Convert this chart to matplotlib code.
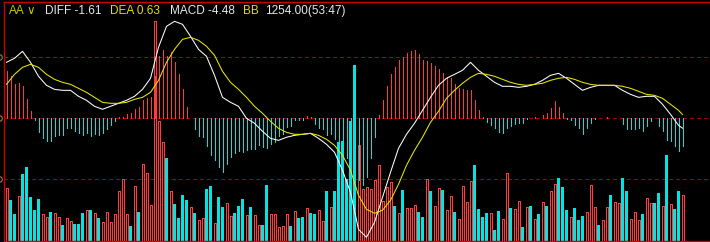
import numpy as np
import matplotlib.pyplot as plt

# ----------------------------------------------------------------------
# Data (170 bars)
# ----------------------------------------------------------------------
vol = [53, 41, 27, 45, 67, 74, 44, 31, 42, 27,
       24, 29, 28, 24, 16, 23, 20, 17, 17, 28,
       31, 31, 28, 23, 19, 29, 19, 27, 50, 62,
       27, 15, 55, 29, 77, 68, 36, 220, 120, 99,
       83, 50, 37, 23, 46, 41, 34, 28, 21, 23,
       52, 55, 18, 44, 34, 38, 25, 28, 35, 42,
       26, 34, 26, 16, 16, 56, 27, 27, 14, 15,
       27, 15, 30, 23, 24, 33, 28, 27, 31, 20,
       50, 34, 50, 99, 100, 62, 120, 176, 96, 52,
       54, 52, 61, 76, 40, 54, 59, 35, 28, 51,
       33, 33, 36, 29, 24, 62, 50, 35, 53, 51,
       31, 45, 29, 22, 55, 39, 60, 76, 32, 24,
       28, 28, 11, 30, 22, 68, 33, 32, 40, 14,
       34, 35, 22, 27, 39, 35, 50, 57, 63, 54,
       31, 24, 33, 21, 25, 29, 56, 34, 16, 21,
       34, 46, 39, 38, 63, 50, 22, 29, 21, 27,
       43, 38, 38, 48, 35, 86, 37, 32, 50, 46]

# r = up day (hollow red), c = down day (filled cyan)
vol_dir = ("rccrcccccr" "rcrrcrrccc" "rcrcrrrrrr" "rcrcrrrrrr"
           "crccccrcrr" "ccrccrrccc" "rcrrccrrrr" "rcrccrccrr"
           "crccccccrr" "rrrrrrrcrc" "rrrccrcrrc" "rrcrrrrccc"
           "crccrrcrrc" "rcrcrcrrcc" "crcccrrrcr" "rcrrccrrrc"
           "rrccrcrccr")

macd = [7.70, 6.89, 5.57, 5.74, 5.25, 3.11, 1.15, -0.25, -2.30, -3.28,
        -3.77, -3.77, -2.95, -2.79, -2.79, -1.56, -1.56, -2.08, -2.46, -2.79,
        -2.38, -2.87, -2.54, -2.79, -2.46, -1.72, -1.07, -0.41, 0.16, 0.21,
        0.70, 0.87, 1.48, 1.85, 2.95, 3.28, 3.44, 6.89, 10.16, 11.15,
        10.16, 10.82, 9.18, 7.21, 4.75, 1.80, 0.05, -1.80, -2.87, -3.11,
        -4.59, -6.07, -6.80, -7.98, -8.85, -7.46, -6.39, -5.74, -5.41, -5.57,
        -5.25, -5.08, -5.08, -4.43, -4.75, -4.92, -4.26, -3.93, -2.95, -2.62,
        -1.48, -1.23, -0.33, -0.33, -0.25, 0.33, 0.16, -0.90, -1.64, -1.72,
        -2.79, -2.54, -3.36, -4.26, -3.93, -6.56, -7.38, -8.85, -10.16, -10.98,
        -9.67, -6.56, -3.11, 0.49, 2.95, 5.25, 7.30, 8.36, 9.51, 10.00,
        10.74, 10.98, 11.15, 10.49, 9.59, 9.34, 9.02, 8.52, 8.03, 7.38,
        6.72, 6.56, 5.57, 4.92, 4.75, 4.59, 4.59, 2.95, 1.31, 0.16,
        -0.66, -1.15, -1.64, -2.30, -2.46, -1.64, -1.31, -0.98, -0.82, -0.82,
        -0.05, 0.08, 0.16, 0.08, 0.57, 0.82, 1.64, 2.79, 1.80, 0.82,
        -0.16, -0.33, -1.15, -1.64, -2.62, -1.56, -0.82, -0.16, 0.0, 0.08,
        0.16, 0.08, 0.0, 0.0, -0.98, -1.72, -1.80, -1.80, -1.64, -2.13,
        -1.31, -0.49, 0.0, -1.31, -2.13, -3.61, -3.77, -4.59, -5.41, -4.48]

# DIFF / DEA sampled every second bar (plus the last bar)
line_idx = list(range(0, 170, 2)) + [169]
diff = [9.18, 9.84, 10.98, 9.18, 6.89, 5.41, 4.75, 4.59, 4.59, 3.61,
        2.95, 1.97, 1.48, 1.97, 2.46, 2.95, 3.61, 4.75, 6.56, 11.64,
        15.08, 15.90, 15.41, 13.44, 11.31, 10.16, 7.05, 3.44, 2.62, 1.97,
        0.0, -0.82, -2.13, -3.28, -3.61, -3.11, -2.79, -2.62, -2.46, -3.28,
        -4.26, -5.57, -8.52, -12.13, -18.20, -19.51, -17.05, -12.95, -8.85, -4.92,
        -2.62, -0.82, 1.31, 3.44, 5.41, 6.56, 7.21, 7.87, 9.18, 7.87,
        6.89, 5.90, 5.25, 5.25, 5.08, 5.25, 5.57, 6.23, 7.05, 7.38,
        6.56, 5.57, 4.59, 5.08, 5.41, 5.41, 5.41, 4.59, 3.93, 3.44,
        3.61, 3.61, 2.30, 0.66, -1.15, -1.61]
dea = [5.57, 7.21, 8.36, 8.85, 8.36, 7.21, 6.39, 5.90, 5.57, 4.92,
       4.26, 3.44, 2.62, 2.46, 2.46, 2.62, 3.11, 3.44, 4.26, 6.23,
       9.18, 11.31, 12.95, 13.28, 12.79, 11.80, 10.33, 7.70, 5.90, 4.75,
       3.44, 1.97, 0.82, -0.49, -1.64, -2.30, -2.62, -2.62, -2.46, -2.79,
       -3.44, -4.43, -6.07, -8.52, -12.62, -14.92, -15.57, -15.08, -13.44, -10.82,
       -7.70, -5.25, -3.11, -0.66, 1.15, 3.28, 4.59, 5.74, 6.72, 7.38,
       7.21, 6.89, 6.39, 5.90, 5.57, 5.41, 5.57, 5.74, 6.23, 6.56,
       6.72, 6.39, 5.90, 5.57, 5.41, 5.41, 5.41, 5.25, 4.92, 4.43,
       3.93, 3.77, 3.28, 2.30, 1.31, 0.63]

grid_levels = [10, 0, -10]

header = [("AA", "#c8c800"), ("\u2228", "#c8c800"),
          ("DIFF -1.61", "#e8e8e8"), ("DEA 0.63", "#e0e000"),
          ("MACD -4.48", "#e8e8e8"), ("BB", "#e0e000"),
          ("1254.00(53:47)", "#e8e8e8")]
header_x = [9, 26, 45, 110, 170, 243, 265]

# ----------------------------------------------------------------------
# Styling
# ----------------------------------------------------------------------
RED = "#ff3c3c"
CYAN = "#00e4e4"
YELLOW = "#e8e800"
GRID = "#a80000"
FRAME = "#cc0000"
W, H = 710, 242
PX = 72 / 100   # one pixel in points

fig = plt.figure(figsize=(W / 100, H / 100), dpi=100, facecolor="black")
rect = [4 / W, 1 / H, (W - 4) / W, 239 / H]
ax_grid = fig.add_axes(rect)                                  # dashed levels
ax_vol = fig.add_axes(rect, sharex=ax_grid)                   # volume
ax = fig.add_axes(rect, sharex=ax_grid, sharey=ax_grid)       # MACD

ax_grid.set_facecolor("black")
for a in (ax_vol, ax):
    a.set_facecolor("none")
for a in (ax_grid, ax_vol, ax):
    a.set_xticks([]); a.set_yticks([])
    for s in a.spines.values():
        s.set_visible(False)

n = len(vol)
idx = np.arange(n)
ax_grid.set_xlim(-0.625, -0.625 + (W - 4) / 4)
ax_grid.set_ylim(-20.11, 19.07)
ax_vol.set_ylim(0, 239)

# dashed reference levels
for lv in grid_levels:
    ax_grid.axhline(lv, color=GRID, lw=PX, ls=(0, (4, 3)), antialiased=False)

# volume bars
up = np.array([c == "r" for c in vol_dir])
v = np.array(vol)
ax_vol.bar(idx[up], v[up], width=0.5, facecolor="black", edgecolor=RED,
           linewidth=PX, antialiased=False)
ax_vol.bar(idx[~up], v[~up], width=0.75, color=CYAN, linewidth=0,
           antialiased=False)

# MACD histogram
m = np.array(macd)
ax.vlines(idx, 0, m, colors=[RED if x > 0 else CYAN for x in m], lw=PX,
          antialiased=False)

# DIFF / DEA
ax.plot(line_idx, diff, color="white", lw=0.75)
ax.plot(line_idx, dea, color=YELLOW, lw=0.75)

# frame
for side in ("left", "top", "bottom"):
    ax.spines[side].set_visible(True)
    ax.spines[side].set_color(FRAME)
    ax.spines[side].set_linewidth(1.0)

# left tick markers
ax.plot([-1.9] * len(grid_levels), grid_levels, "o", ms=4, mfc="none",
        mec="#9a7a55", mew=0.8, clip_on=False)

# header text
for (s, c), x in zip(header, header_x):
    fig.text(x / W, 1 - 11 / H, s, color=c, fontsize=8.5, va="center",
             ha="left", family=["Liberation Sans", "DejaVu Sans"])

fig.savefig("out.png", dpi=100, facecolor="black")
